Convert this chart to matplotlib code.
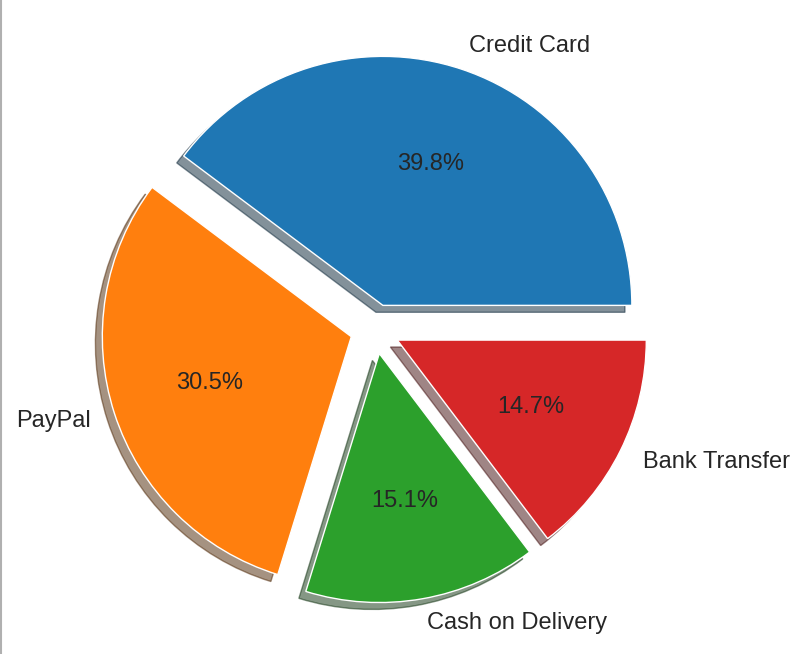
import matplotlib.pyplot as plt
from matplotlib.lines import Line2D

# payment method shares (%)
methods = ['Credit Card', 'PayPal', 'Cash on Delivery', 'Bank Transfer']
shares = [39.8, 30.5, 15.1, 14.7]
explode = [0.1, 0.1, 0.1, 0.1]
colors = ['#1f77b4', '#ff7f0e', '#2ca02c', '#d62728']

plt.rcParams['font.family'] = ['Liberation Sans', 'DejaVu Sans']
plt.rcParams['text.color'] = '#262626'

fig = plt.figure(figsize=(8.01, 6.54), dpi=100)
ax = fig.add_axes([75 / 801, 25 / 654, 600 / 801, 600 / 654])

ax.pie(shares, labels=methods, colors=colors, explode=explode,
       autopct='%1.1f%%', startangle=0, shadow=True,
       wedgeprops={'edgecolor': 'white', 'linewidth': 1},
       textprops={'fontsize': 17, 'color': '#262626'})
lim = 300 / 249
ax.set_xlim(-lim, lim)
ax.set_ylim(-lim, lim)

# thin grey border on the left edge, as in the original screenshot
fig.add_artist(Line2D([0.001, 0.001], [0, 1], color='#b0b0b0', linewidth=1.5,
                      transform=fig.transFigure))

plt.savefig('out.png', dpi=100)
